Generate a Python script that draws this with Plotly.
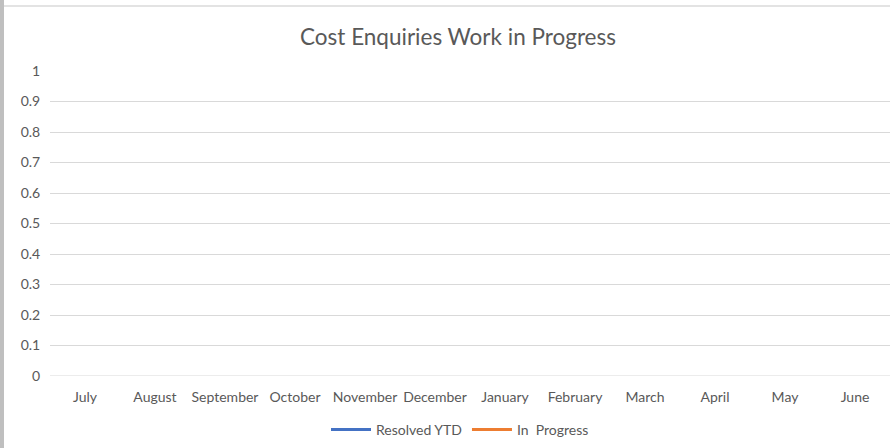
import plotly.graph_objects as go

months = ["July", "August", "September", "October", "November", "December",
          "January", "February", "March", "April", "May", "June"]
resolved_ytd = [None] * 12
in_progress = [None] * 12
y_ticks = [0, 0.1, 0.2, 0.3, 0.4, 0.5, 0.6, 0.7, 0.8, 0.9, 1]
y_tick_labels = ["0", "0.1", "0.2", "0.3", "0.4", "0.5", "0.6", "0.7", "0.8", "0.9", "1"]

W, H = 890, 448
L, R, T, B = 50, 0, 71, 72
pw, ph = W - L - R, H - T - B

def px_x(x):
    return (x - L) / pw

def px_y(y):
    return (H - B - y) / ph

fig = go.Figure()
fig.add_trace(go.Scatter(x=months, y=resolved_ytd, mode="lines", name="Resolved YTD",
                         line=dict(color="#4472C4", width=3), showlegend=True))
fig.add_trace(go.Scatter(x=months, y=in_progress, mode="lines", name="In  Progress",
                         line=dict(color="#ED7D31", width=3), showlegend=True))

font_fam = "Lato, 'Open Sans', sans-serif"
fig.update_layout(
    width=W, height=H,
    margin=dict(l=L, r=R, t=T, b=B),
    paper_bgcolor="white", plot_bgcolor="white",
    font=dict(family=font_fam, color="#595959", size=14),
    title=dict(text="Cost Enquiries Work in Progress", x=458 / W, xref="container",
               xanchor="center", y=1 - 37 / H, yref="container", yanchor="middle",
               font=dict(size=22.5, color="#595959", family=font_fam)),
    xaxis=dict(type="category", categoryorder="array", categoryarray=months,
               range=[-0.5, 11.5], showgrid=False, zeroline=False, showline=False,
               ticks="outside", ticklen=8, tickcolor="rgba(0,0,0,0)",
               tickfont=dict(size=14, color="#595959")),
    yaxis=dict(range=[0, 1], tickvals=y_ticks, ticktext=y_tick_labels,
               showgrid=True, gridcolor="#D9D9D9", gridwidth=1, zeroline=False,
               showline=False, ticks="outside", ticklen=6, tickcolor="rgba(0,0,0,0)",
               tickfont=dict(size=14, color="#595959")),
    legend=dict(orientation="h", x=px_x(460), xanchor="center", y=px_y(430), yanchor="middle",
                font=dict(size=14, color="#595959"), itemwidth=40,
                bgcolor="rgba(0,0,0,0)"),
    shapes=[
        dict(type="rect", xref="paper", yref="paper", x0=px_x(0), x1=px_x(4),
             y0=px_y(H), y1=px_y(0), fillcolor="#BFBFBF", line=dict(width=0), layer="above"),
        dict(type="line", xref="paper", yref="paper", x0=px_x(4), x1=px_x(W),
             y0=px_y(6), y1=px_y(6), line=dict(color="#E3E3E3", width=2), layer="above"),
    ],
)
fig.add_shape(type="line", xref="paper", yref="y", x0=0, x1=1, y0=0, y1=0,
              line=dict(color="#D9D9D9", width=1))

fig.write_html("out.html", config={"displayModeBar": False},
               post_script="document.body.style.margin='0';")
